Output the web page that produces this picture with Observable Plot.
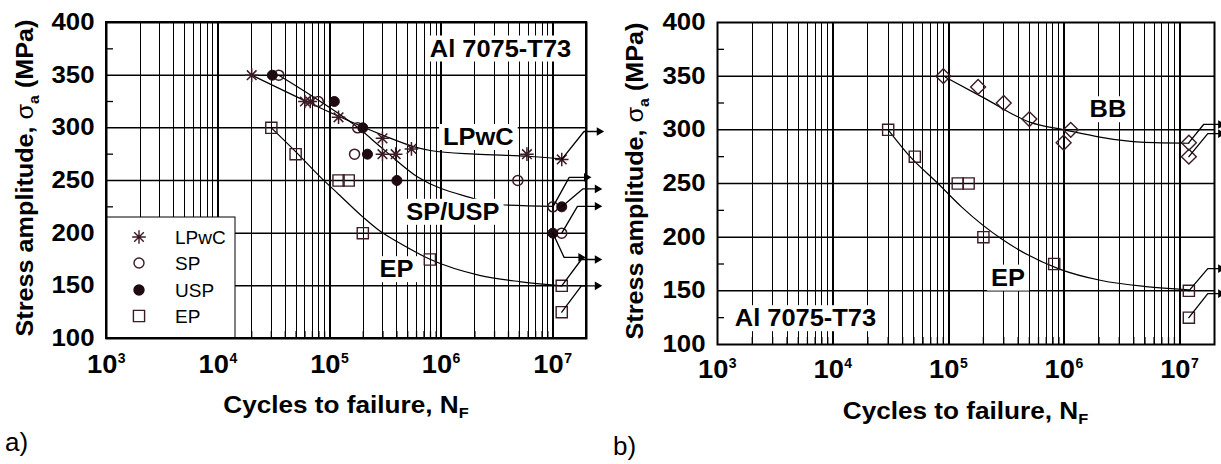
<!DOCTYPE html>
<html><head><meta charset="utf-8">
<script src="https://cdn.jsdelivr.net/npm/d3@7"></script>
<script src="https://cdn.jsdelivr.net/npm/@observablehq/plot@0.6"></script>
<style>
body{margin:0;background:#fff;}
#wrap{position:relative;width:1221px;height:464px;overflow:hidden;background:#fff;}
#pa{position:absolute;left:0;top:0;}
#pb{position:absolute;left:610px;top:0;}
</style></head><body>
<div id="wrap"><div id="pa"></div><div id="pb"></div></div>
<script>
const FONT = "Liberation Sans, Arial, Helvetica, sans-serif";
const MARK = "#3b1b25";

// axes
const decades = [1e3, 1e4, 1e5, 1e6, 1e7];
const decadeExp = ["3", "4", "5", "6", "7"];
const yTickValues = [100, 150, 200, 250, 300, 350, 400];
const yMinorValues = [125, 175, 225, 275, 325, 375];
const yGridValues = [150, 200, 250, 300, 350];
const xGridMajor = [1e4, 1e5, 1e6, 1e7];
const xMinorValues = decades.flatMap(d => [2,3,4,5,6,7,8,9].map(m => d * m)).filter(v => v < 2e7);

// ---- panel a data ----
const lpwcN = [2e4, 6e4, 6.7e4, 1.2e5, 2.97e5, 2.97e5, 3.9e5, 5.4e5, 5.85e6, 1.2e7];
const lpwcS = [350, 325, 325, 310, 290, 275, 275, 280, 275, 270];
const spN = [3.5e4, 7.9e4, 1.78e5, 1.67e5, 4.85e6, 1e7, 1.2e7];
const spS = [350, 325, 300, 275, 250, 225, 200];
const uspN = [3.06e4, 1.1e5, 1.98e5, 2.18e5, 4e5, 1.2e7, 1e7];
const uspS = [350, 325, 300, 275, 250, 225, 200];
const epAN = [3e4, 4.95e4, 1.2e5, 1.48e5, 1.98e5, 7.9e5, 1.2e7, 1.2e7];
const epAS = [300, 275, 250, 250, 200, 175, 150, 125];

const lpwcFitN = [2e4, 6.2e4, 1.2e5, 3e5, 6.2e5, 8e5, 2e6, 6e6, 1.2e7];
const lpwcFitS = [350, 325, 311, 293, 281, 278.5, 275, 273, 270.5];
const spuspFitN = [3.5e4, 8e4, 1.8e5, 3e5, 6.2e5, 1.8e6, 3.4e6, 1e7];
const spuspFitS = [350, 326, 300, 280, 253, 234, 227, 225.5];
const epAFitN = [3e4, 5e4, 8.3e4, 1.2e5, 2e5, 2.9e5, 4e5, 8e5, 2.2e6, 5e6, 1.2e7];
const epAFitS = [300, 277, 253, 237, 215, 201, 192, 175, 160, 154, 150];

const arrowsA = [
  [[1.2e7, 270], [1.9e7, 296.5], [2.6e7, 296.5]],
  [[1e7, 225], [1.4e7, 253], [2e7, 253]],
  [[1.2e7, 225], [1.85e7, 242], [2.5e7, 242]],
  [[1.2e7, 200], [1.66e7, 225.5], [2.5e7, 225.5]],
  [[1e7, 200], [1.26e7, 177], [1.78e7, 177]],
  [[1.2e7, 150], [1.8e7, 175], [2.5e7, 175]],
  [[1.2e7, 125], [1.8e7, 150], [2.5e7, 150]]
];
const labelsAText = ["Al 7075-T73", "LPwC", "SP/USP", "EP"];
const labelsAN = [3.39e6, 2.15e6, 1.27e6, 3.97e5];
const labelsAS = [375, 291, 220, 165.5];
const legendNames = ["LPwC", "SP", "USP", "EP"];

// ---- panel b data ----
const bbN = [9e4, 1.8e5, 3e5, 5e5, 1.14e6, 9.9e5, 1.2e7, 1.2e7];
const bbS = [350, 340, 325, 310, 300, 288, 288, 275];
const epBN = [3e4, 5.1e4, 1.2e5, 1.49e5, 2e5, 8.2e5, 1.2e7, 1.2e7];
const epBS = [300, 275, 250, 250, 200, 175, 150, 125];
const bbFitN = [9.4e4, 2e5, 5.1e5, 1e6, 2.1e6, 4.6e6, 1.2e7];
const bbFitS = [349, 330, 307, 300, 293, 288.5, 287.5];
const epBFitN = [3e4, 4.6e4, 8.1e4, 1.3e5, 2.9e5, 9e5, 2.1e6, 5.1e6, 1.2e7];
const epBFitS = [300, 275.5, 250, 228, 198, 170.5, 159.6, 154, 151];
const arrowsB = [
  [[1.2e7, 288], [1.61e7, 305], [2.26e7, 305]],
  [[1.2e7, 275], [1.75e7, 296.5], [2.26e7, 296.5]],
  [[1.2e7, 150], [1.75e7, 170.7], [2.26e7, 170.7]],
  [[1.2e7, 125], [1.75e7, 147.4], [2.26e7, 147.4]]
];
const labelsBText = ["BB", "EP", "Al 7075-T73"];
const labelsBN = [2.39e6, 3.27e5, 5.77e3];
const labelsBS = [318.9, 162, 124.2];

// ---- helpers ----
const zip = (N, S) => N.map((n, i) => ({n, s: S[i]}));
const arrowPts = arr => arr.flatMap((a, id) => a.map(([n, s]) => ({n, s, id})));
const arrowEnds = arr => arr.map(a => ({n: a[a.length - 1][0], s: a[a.length - 1][1]}));
const labelRows = (T, N, S) => T.map((t, i) => ({t, n: N[i], s: S[i]}));

const star8 = {
  draw(ctx, size) {
    const r = Math.sqrt(size / Math.PI), d = r * Math.SQRT1_2;
    ctx.moveTo(-r, 0); ctx.lineTo(r, 0);
    ctx.moveTo(0, -r); ctx.lineTo(0, r);
    ctx.moveTo(-d, -d); ctx.lineTo(d, d);
    ctx.moveTo(-d, d); ctx.lineTo(d, -d);
  }
};

function makePanel(o) {
  const marks = [
    Plot.ruleX(xMinorValues, {stroke: "#000", strokeWidth: 1, shapeRendering: "crispEdges"}),
    Plot.ruleX(xGridMajor, {stroke: "#000", strokeWidth: 2, shapeRendering: "crispEdges"}),
    Plot.ruleY(yGridValues, {stroke: "#000", strokeWidth: 1.5}),
    ...o.curves.map(c => Plot.line(c, {x: "n", y: "s", curve: "monotone-x", stroke: "#000", strokeWidth: 1.2})),
    Plot.text(o.labels, {x: "n", y: "s", text: "t", fontSize: 24, fontWeight: "bold", fontFamily: FONT, fill: "#000", ariaDescription: "boxed-label"}),
    ...o.dots,
    Plot.line(arrowPts(o.arrows), {x: "n", y: "s", z: "id", stroke: "#000", strokeWidth: 1.3}),
    Plot.dot(arrowEnds(o.arrows), {x: "n", y: "s", symbol: "triangle", rotate: 90, r: 3.2, fill: "#000", stroke: null}),
    Plot.axisY(yMinorValues, {anchor: "left", tickSize: 7, dx: 7, tickFormat: () => "", label: null, strokeWidth: 1.3}),
    Plot.axisX(xMinorValues, {anchor: "bottom", tickSize: 7, dy: -7, tickFormat: () => "", label: null, strokeWidth: 1.3}),
    Plot.text(yTickValues, {y: d => d, frameAnchor: "left", dx: -12, textAnchor: "end", text: d => String(d), fontSize: 23, fontWeight: "bold", fontFamily: FONT, ariaDescription: "ytick"}),
    Plot.text(decades, {x: d => d, frameAnchor: "bottom", dy: o.tenDy, dx: 10.8, lineAnchor: "bottom", textAnchor: "end", text: () => "10", fontSize: 26, fontWeight: "bold", fontFamily: FONT, ariaDescription: "xtick"}),
    Plot.text(decades, {x: d => d, frameAnchor: "bottom", dy: o.expDy, dx: 11.3, lineAnchor: "bottom", textAnchor: "start", text: (d, i) => decadeExp[i], fontSize: 14, fontWeight: "bold", fontFamily: FONT}),
    Plot.frame({stroke: "#000", strokeWidth: 2})
  ];
  return Plot.plot({
    width: o.width, height: 464,
    marginLeft: o.ml, marginRight: o.mr, marginTop: 22, marginBottom: o.mb,
    x: {type: "log", domain: [1e3, 2e7], label: null},
    y: {domain: [100, 400], label: null},
    style: {fontFamily: FONT, background: "white", overflow: "visible"},
    marks
  });
}

function stretch(sel, k) {
  sel.each(function () {
    const L = this.getComputedTextLength();
    if (L > 0) {
      this.setAttribute("textLength", (L * k).toFixed(2));
      this.setAttribute("lengthAdjust", "spacingAndGlyphs");
    }
  });
}

function post(svgNode, o) {
  const s = d3.select(svgNode);
  stretch(s.selectAll('g[aria-description="ytick"] text'), 1.12);
  stretch(s.selectAll('g[aria-description="xtick"] text'), 1.05);
  const lab = s.selectAll('g[aria-description="boxed-label"] text');
  stretch(lab, 1.06);
  lab.each(function () {
    const b = this.getBBox();
    const r = document.createElementNS("http://www.w3.org/2000/svg", "rect");
    r.setAttribute("x", b.x - 4);
    r.setAttribute("y", b.y + 1);
    r.setAttribute("width", b.width + 8);
    r.setAttribute("height", b.height - 1);
    r.setAttribute("fill", "#fff");
    r.setAttribute("stroke", "none");
    const tr = this.getAttribute("transform");
    if (tr) r.setAttribute("transform", tr);
    this.parentNode.insertBefore(r, this);
  });
  // y title
  const yt = s.append("text")
    .attr("transform", `translate(${o.ytX},${o.ytY}) rotate(-90)`)
    .attr("text-anchor", "middle").attr("font-family", FONT)
    .attr("font-size", 24).attr("font-weight", "bold").attr("fill", "#000");
  yt.append("tspan").text("Stress amplitude, ");
  yt.append("tspan").attr("font-weight", "normal").text("σ");
  yt.append("tspan").attr("font-size", 15).attr("dy", 6).text("a");
  yt.append("tspan").attr("dy", -6).text(" (MPa)");
  stretch(yt, 1.05);
  // x title
  const xt = s.append("text")
    .attr("x", o.xtX).attr("y", o.xtY)
    .attr("text-anchor", "middle").attr("font-family", FONT)
    .attr("font-size", 24).attr("font-weight", "bold").attr("fill", "#000");
  xt.append("tspan").text("Cycles to failure, N");
  xt.append("tspan").attr("font-size", 15).attr("dy", 5).text("F");
  stretch(xt, 1.09);
  // panel letter
  s.append("text").attr("x", o.letX).attr("y", o.letY).attr("text-anchor", "start")
    .attr("font-family", FONT).attr("font-size", 26).attr("fill", "#000").text(o.letter);
}

// ---- panel a ----
const svgA = makePanel({
  width: 610, ml: 106, mr: 24, mb: 126, tenDy: 34, expDy: 24,
  curves: [zip(lpwcFitN, lpwcFitS), zip(spuspFitN, spuspFitS), zip(epAFitN, epAFitS)],
  labels: labelRows(labelsAText, labelsAN, labelsAS),
  arrows: arrowsA,
  dots: [
    Plot.dot(zip(lpwcN, lpwcS), {x: "n", y: "s", symbol: star8, r: 6.8, stroke: MARK, fill: "none", strokeWidth: 1.5}),
    Plot.dot(zip(spN, spS), {x: "n", y: "s", symbol: "circle", r: 5, stroke: MARK, fill: "none", strokeWidth: 1.5}),
    Plot.dot(zip(uspN, uspS), {x: "n", y: "s", symbol: "circle", r: 5, stroke: "#1e0a10", fill: "#1e0a10", strokeWidth: 1}),
    Plot.dot(zip(epAN, epAS), {x: "n", y: "s", symbol: "square", r: 6.3, stroke: MARK, fill: "none", strokeWidth: 1.4})
  ]
});
document.getElementById("pa").appendChild(svgA);
post(svgA, {ytX: 33, ytY: 178, xtX: 346, xtY: 413, letX: 5, letY: 451, letter: "a)"});

// legend (panel a)
{
  const s = d3.select(svgA);
  const g = s.append("g").attr("text-anchor", "start");
  g.append("rect").attr("x", 107).attr("y", 217).attr("width", 128).attr("height", 121)
    .attr("fill", "#fff").attr("stroke", "#000").attr("stroke-width", 1);
  const syms = [star8, d3.symbolCircle, d3.symbolCircle, d3.symbolSquare];
  const rs = [6.8, 5, 5, 6.3];
  const fills = ["none", "none", "#1e0a10", "none"];
  const rowsY = [237, 263, 290, 316];
  legendNames.forEach((name, i) => {
    g.append("path")
      .attr("d", d3.symbol(syms[i], Math.PI * rs[i] * rs[i])())
      .attr("transform", `translate(139,${rowsY[i]})`)
      .attr("fill", fills[i]).attr("stroke", i === 2 ? "#1e0a10" : MARK).attr("stroke-width", 1.4);
    g.append("text").attr("x", 175).attr("y", rowsY[i] + 7).attr("text-anchor", "start")
      .attr("font-family", FONT).attr("font-size", 19).attr("fill", "#000").text(name);
  });
  s.append("rect").attr("x", 106).attr("y", 22).attr("width", 480).attr("height", 316)
    .attr("fill", "none").attr("stroke", "#000").attr("stroke-width", 2);
}

// ---- panel b ----
const svgB = makePanel({
  width: 611, ml: 107, mr: 7, mb: 120, tenDy: 33, expDy: 23,
  curves: [zip(bbFitN, bbFitS), zip(epBFitN, epBFitS)],
  labels: labelRows(labelsBText, labelsBN, labelsBS),
  arrows: arrowsB,
  dots: [
    Plot.dot(zip(bbN, bbS), {x: "n", y: "s", symbol: "diamond2", r: 6.7, stroke: MARK, fill: "none", strokeWidth: 1.4}),
    Plot.dot(zip(epBN, epBS), {x: "n", y: "s", symbol: "square", r: 6.3, stroke: MARK, fill: "none", strokeWidth: 1.4})
  ]
});
document.getElementById("pb").appendChild(svgB);
post(svgB, {ytX: 33, ytY: 181, xtX: 355.5, xtY: 419, letX: 3, letY: 455, letter: "b)"});
</script>
</body></html>
